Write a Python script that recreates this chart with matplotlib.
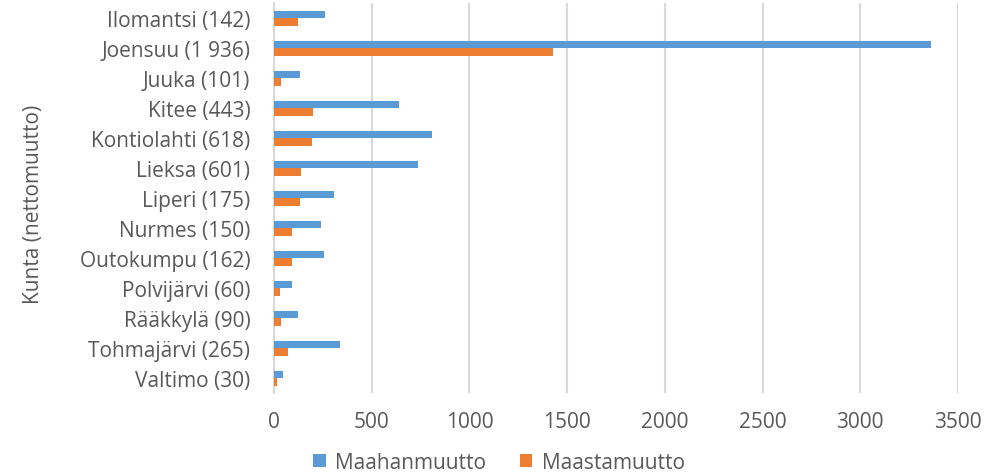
import matplotlib
matplotlib.use("Agg")
import matplotlib.pyplot as plt
import numpy as np

categories = ["Ilomantsi (142)", "Joensuu (1 936)", "Juuka (101)", "Kitee (443)",
              "Kontiolahti (618)", "Lieksa (601)", "Liperi (175)", "Nurmes (150)",
              "Outokumpu (162)", "Polvijärvi (60)", "Rääkkylä (90)", "Tohmajärvi (265)",
              "Valtimo (30)"]
maahanmuutto = [263, 3362, 135, 641, 811, 737, 308, 240, 256, 92, 124, 338, 45]
maastamuutto = [121, 1426, 34, 198, 193, 136, 133, 90, 94, 32, 34, 73, 15]
xticks = [0, 500, 1000, 1500, 2000, 2500, 3000, 3500]

plt.rcParams['font.family'] = ['Open Sans', 'DejaVu Sans']
txt = '#595959'
fs = 15

fig = plt.figure(figsize=(10.04, 4.77), dpi=100)
ax = fig.add_axes([274/1004, 1-394/477, (958-274)/1004, 390/477])

y = np.arange(len(categories))
h = 0.25
ax.barh(y - h/2, maahanmuutto, height=h, color='#5B9BD5', label='Maahanmuutto', zorder=3)
ax.barh(y + h/2, maastamuutto, height=h, color='#ED7D31', label='Maastamuutto', zorder=3)

ax.set_ylim(len(categories) - 0.5, -0.5)
ax.set_xlim(0, 3500)
ax.set_yticks(y)
ax.set_yticklabels(categories, fontsize=fs, color=txt)
ax.set_xticks(xticks)
ax.set_xticklabels([str(v) for v in xticks], fontsize=fs, color=txt)
ax.tick_params(axis='y', length=0, pad=17)
ax.tick_params(axis='x', length=0, pad=13)
ax.grid(axis='x', color='#D9D9D9', linewidth=1.5, zorder=0)
for s in ['top', 'right', 'bottom']:
    ax.spines[s].set_visible(False)
ax.spines['left'].set_color('#D9D9D9')
ax.spines['left'].set_linewidth(1.5)
ax.set_ylabel('Kunta (nettomuutto)', fontsize=fs, color=txt)
ax.yaxis.set_label_coords(-0.336, 0.485)

leg = fig.legend(loc='lower center', ncol=2, frameon=False,
                 fontsize=fs, handlelength=0.6, handleheight=0.6, handletextpad=0.45,
                 columnspacing=1.6, bbox_to_anchor=(499/1004, -0.032))
for t in leg.get_texts():
    t.set_color(txt)

fig.savefig('out.png', dpi=100)
